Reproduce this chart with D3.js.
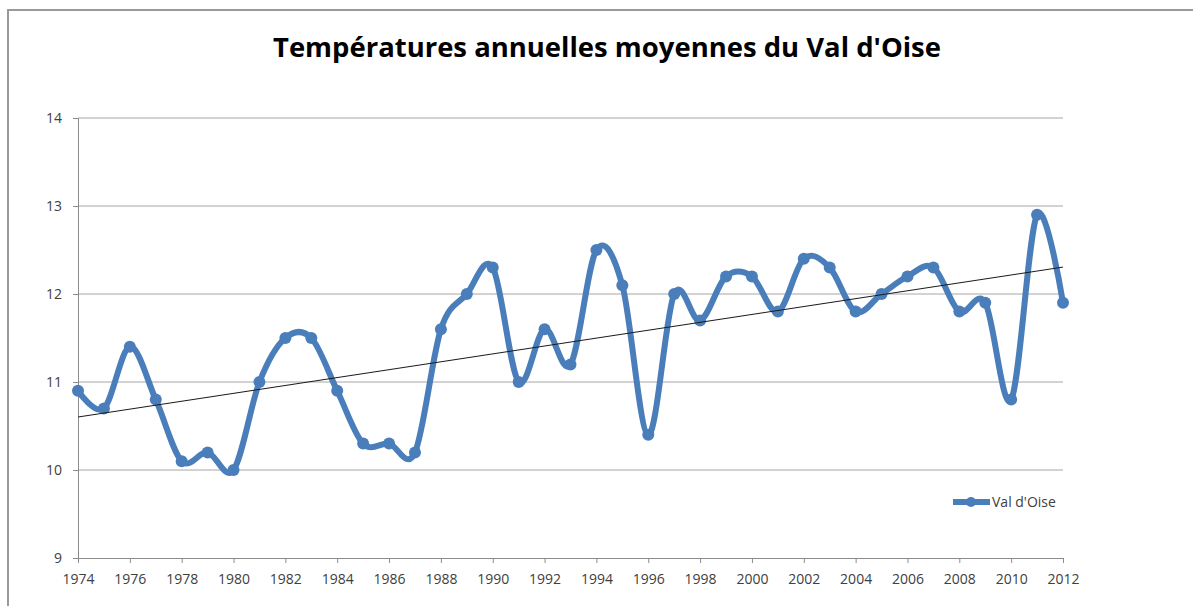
<!DOCTYPE html>
<html><head><meta charset="utf-8">
<script src="https://cdn.jsdelivr.net/npm/d3@7"></script>
<style>
html,body{margin:0;padding:0;background:#fff;}
svg{display:block;}
</style></head>
<body>
<svg id="chart" width="1193" height="606"></svg>
<script>
const title = "Températures annuelles moyennes du Val d'Oise";
const seriesName = "Val d'Oise";
const years = [1974,1975,1976,1977,1978,1979,1980,1981,1982,1983,1984,1985,1986,1987,1988,1989,1990,1991,1992,1993,1994,1995,1996,1997,1998,1999,2000,2001,2002,2003,2004,2005,2006,2007,2008,2009,2010,2011,2012];
const temps = [10.9,10.7,11.4,10.8,10.1,10.2,10.0,11.0,11.5,11.5,10.9,10.3,10.3,10.2,11.6,12.0,12.3,11.0,11.6,11.2,12.5,12.1,10.4,12.0,11.7,12.2,12.2,11.8,12.4,12.3,11.8,12.0,12.2,12.3,11.8,11.9,10.8,12.9,11.9];
const yTicks = [9,10,11,12,13,14];
const xTicks = [1974,1976,1978,1980,1982,1984,1986,1988,1990,1992,1994,1996,1998,2000,2002,2004,2006,2008,2010,2012];

const svg = d3.select("#chart");
const blue = "#4a7ebb";
const font = "'Open Sans', 'Liberation Sans', sans-serif";

// frame
svg.append("path").attr("d","M8,606 L8,10 L1193,10").attr("fill","none").attr("stroke","#9a9a9a").attr("stroke-width",2);

const x = d3.scaleLinear().domain([1974,2012]).range([78,1063]);
const y = d3.scaleLinear().domain([9,14]).range([558,118]);

// gridlines
svg.append("g").selectAll("line").data(yTicks.filter(d=>d>9)).join("line")
  .attr("x1",x(1974)).attr("x2",x(2012))
  .attr("y1",d=>y(d)).attr("y2",d=>y(d))
  .attr("stroke","#a6a6a6").attr("stroke-width",1);

// y axis
const yAxis = svg.append("g").attr("transform",`translate(${x(1974)},0)`)
  .call(d3.axisLeft(y).tickValues(yTicks).tickSize(5).tickPadding(11).tickFormat(d3.format("d")));
yAxis.select(".domain").attr("stroke","#8c8c8c");
yAxis.selectAll(".tick line").attr("stroke","#8c8c8c");
yAxis.selectAll("text").attr("font-family",font).attr("font-size",14).attr("fill","#404040");

// x axis
const xAxis = svg.append("g").attr("transform",`translate(0,${y(9)})`)
  .call(d3.axisBottom(x).tickValues(xTicks).tickSize(5).tickPadding(11).tickFormat(d3.format("d")));
xAxis.select(".domain").attr("stroke","#8c8c8c");
xAxis.selectAll(".tick line").attr("stroke","#8c8c8c");
xAxis.selectAll("text").attr("font-family",font).attr("font-size",14).attr("fill","#404040");

// data line
const pts = years.map((yr,i)=>[yr,temps[i]]);
const line = d3.line().x(d=>x(d[0])).y(d=>y(d[1])).curve(d3.curveCatmullRom.alpha(0));
svg.append("path").datum(pts).attr("d",line)
  .attr("fill","none").attr("stroke",blue).attr("stroke-width",6).attr("stroke-linejoin","round").attr("stroke-linecap","round");
svg.append("g").selectAll("circle").data(pts).join("circle")
  .attr("cx",d=>x(d[0])).attr("cy",d=>y(d[1])).attr("r",6).attr("fill",blue);

// linear trend
const mx = d3.mean(years), my = d3.mean(temps);
const slope = d3.sum(years.map((v,i)=>(v-mx)*(temps[i]-my))) / d3.sum(years.map(v=>(v-mx)*(v-mx)));
const icpt = my - slope*mx;
svg.append("line")
  .attr("x1",x(1974)).attr("y1",y(icpt+slope*1974))
  .attr("x2",x(2012)).attr("y2",y(icpt+slope*2012))
  .attr("stroke","#1a1a1a").attr("stroke-width",1);

// title
svg.append("text").attr("x",607).attr("y",57).attr("text-anchor","middle")
  .attr("font-family",font).attr("font-weight","bold").attr("font-size",26)
  .attr("textLength",668).attr("lengthAdjust","spacingAndGlyphs")
  .attr("fill","#000").text(title);

// legend
const lg = svg.append("g");
lg.append("line").attr("x1",953).attr("x2",990).attr("y1",502).attr("y2",502).attr("stroke",blue).attr("stroke-width",6);
lg.append("circle").attr("cx",971).attr("cy",502).attr("r",5).attr("fill",blue);
lg.append("text").attr("x",992).attr("y",507).attr("font-family",font).attr("font-size",14).attr("fill","#404040").text(seriesName);
</script>
</body></html>
